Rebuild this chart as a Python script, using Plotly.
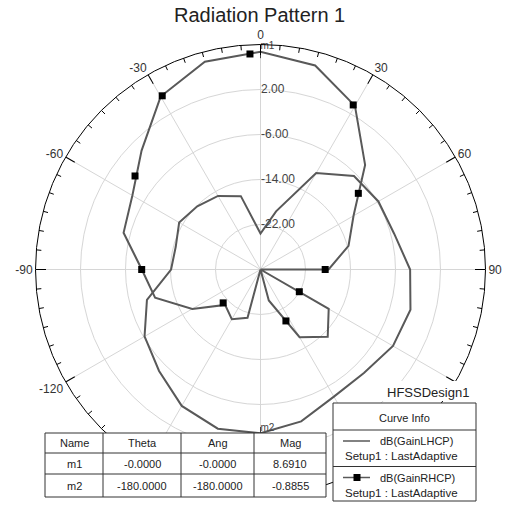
import plotly.graph_objects as go

# ---- pattern data (dB vs theta, degrees) ----
THETA = list(range(-180, 181, 15))
LHCP_DB = [-0.8855, -0.7, -2.0, -4.5, -6.2, -9.1, -14.1, -14.4, -13.3, -14.1,
           -14.9, -16.5, -23.6, -19.3, -10.2, -6.5, -5.8, -5.4, -3.4, -2.4,
           -2.8, -4.0, -3.9, -2.05, -0.8855]
RHCP_DB = [-30.0, -21.1, -19.8, -21.1, -16.0, -10.6, -8.9, -4.8, -3.7, -0.1,
           5.5, 8.23, 8.691, 7.55, 3.58, -3.7, -10.9, -13.8, -17.9, -30.0,
           -16.0, -13.1, -16.1, -24.3, -30.0]

# symbol positions along the RHCP curve
RHCP_SYM_THETA = [-2.8, 29.4, 52.1, 90.0, 119.8, 153.7, -131.8, -90.0, -53.3, -29.5]
RHCP_SYM_DB = [8.36, 3.58, -7.96, -18.5, -22.05, -19.8, -21.1, -8.88, -2.18, 5.48]

# named markers
MARKER_NAMES = ["m1", "m2"]
MARKER_THETA = [-0.0, -180.0]
MARKER_ANG = [-0.0, -180.0]
MARKER_MAG = [8.6910, -0.8855]

TABLE_HEAD = ["Name", "Theta", "Ang", "Mag"]

# axes (labels under the table / info box are left blank)
R_RANGE = [-30, 10]
R_TICKS = [-22, -14, -6, 2]
ANG_TICKS = [0, 30, 60, 90, 120, 150, 180, 210, 240, 270, 300, 330]
ANG_TEXT = ["0", "30", "60", "90", "", "", "", "", "-120", "-90", "-60", "-30"]

W, H = 505, 508
FONT = "Liberation Sans, Arial, sans-serif"
CURVE = "#595959"
GRID = "#d6d6d6"


def px(x):
    return x / W


def py(y):
    return 1 - y / H


fig = go.Figure()

# minor ticks every 5 degrees on the outer ring
minor_t, minor_r = [], []
tick_depth = 5 / (450 / 2) * (R_RANGE[1] - R_RANGE[0])
for a in range(0, 360, 5):
    if a % 30:
        minor_t += [a, a, None]
        minor_r += [R_RANGE[1], R_RANGE[1] - tick_depth, None]
fig.add_trace(go.Scatterpolar(theta=minor_t, r=minor_r, mode="lines",
                              line=dict(color="black", width=1),
                              hoverinfo="skip", cliponaxis=False))

fig.add_trace(go.Scatterpolar(theta=THETA, r=LHCP_DB, mode="lines",
                              name="dB(GainLHCP)",
                              line=dict(color=CURVE, width=2)))
fig.add_trace(go.Scatterpolar(theta=THETA, r=RHCP_DB, mode="lines",
                              name="dB(GainRHCP)",
                              line=dict(color=CURVE, width=2)))
fig.add_trace(go.Scatterpolar(theta=RHCP_SYM_THETA, r=RHCP_SYM_DB, mode="markers",
                              marker=dict(symbol="square", size=7, color="black"),
                              showlegend=False))

# m1 / m2 markers: a short tick at the point and the name beside it
fig.add_trace(go.Scatterpolar(theta=MARKER_THETA, r=MARKER_MAG, mode="markers",
                              marker=dict(symbol="line-ns", size=9,
                                          line=dict(width=1, color="#444")),
                              cliponaxis=False))
fig.add_trace(go.Scatterpolar(theta=MARKER_THETA, r=MARKER_MAG, mode="text",
                              text=MARKER_NAMES, textposition="top right",
                              textfont=dict(family=FONT, size=10, color="#444"),
                              cliponaxis=False))

fig.update_layout(
    width=W, height=H,
    margin=dict(l=0, r=0, t=0, b=0),
    paper_bgcolor="white",
    showlegend=False,
    polar=dict(
        domain=dict(x=[px(35.5), px(485.5)], y=[py(494.5), py(44.5)]),
        bgcolor="white",
        angularaxis=dict(
            rotation=90, direction="clockwise",
            tickmode="array", tickvals=ANG_TICKS, ticktext=ANG_TEXT,
            ticks="inside", ticklen=10, tickwidth=1, tickcolor="black",
            showline=True, linecolor="black", linewidth=1,
            showgrid=True, gridcolor=GRID, gridwidth=1,
            tickfont=dict(family=FONT, size=12, color="#333"),
        ),
        radialaxis=dict(
            range=R_RANGE, tickmode="array", tickvals=R_TICKS,
            ticktext=[f"{v:.2f}" for v in R_TICKS],
            angle=90, tickangle=90, side="clockwise",
            showline=False, ticks="",
            showgrid=True, gridcolor=GRID, gridwidth=1,
            tickfont=dict(family=FONT, size=12, color="#444"),
        ),
    ),
)

shapes = []
annotations = []

annotations.append(dict(x=px(259), y=py(15), xref="paper", yref="paper",
                        text="Radiation Pattern 1", showarrow=False,
                        font=dict(family=FONT, size=20, color="#222"),
                        xanchor="center", yanchor="middle"))

# design name sits on a white panel
shapes.append(dict(type="rect", xref="paper", yref="paper", layer="above",
                   x0=px(378), x1=px(500), y0=py(401), y1=py(381),
                   fillcolor="white", line=dict(width=0)))
annotations.append(dict(x=px(428), y=py(392.5), xref="paper", yref="paper",
                        text="HFSSDesign1", showarrow=False,
                        font=dict(family=FONT, size=13, color="#222"),
                        xanchor="center", yanchor="middle"))

# ---- marker table ----
tx0, tx1 = 45, 326
row_y = [433, 453, 474, 497]
col_x = [45, 103, 181, 254, 326]
shapes.append(dict(type="rect", xref="paper", yref="paper", layer="above",
                   x0=px(tx0), x1=px(tx1), y0=py(row_y[-1]), y1=py(row_y[0]),
                   fillcolor="white", line=dict(color="#333", width=1)))
for yy in row_y[1:-1]:
    shapes.append(dict(type="line", xref="paper", yref="paper", layer="above",
                       x0=px(tx0), x1=px(tx1), y0=py(yy), y1=py(yy),
                       line=dict(color="#333", width=1)))
for xx in col_x[1:-1]:
    shapes.append(dict(type="line", xref="paper", yref="paper", layer="above",
                       x0=px(xx), x1=px(xx), y0=py(row_y[0]), y1=py(row_y[-1]),
                       line=dict(color="#333", width=1)))
rows = [TABLE_HEAD] + [[n, f"{t:.4f}", f"{a:.4f}", f"{m:.4f}"]
                       for n, t, a, m in zip(MARKER_NAMES, MARKER_THETA, MARKER_ANG, MARKER_MAG)]
for i, row in enumerate(rows):
    yc = (row_y[i] + row_y[i + 1]) / 2
    for j, cell in enumerate(row):
        xc = (col_x[j] + col_x[j + 1]) / 2
        annotations.append(dict(x=px(xc), y=py(yc), xref="paper", yref="paper",
                                text=cell, showarrow=False,
                                font=dict(family=FONT, size=11, color="#222"),
                                xanchor="center", yanchor="middle"))

# ---- curve info box ----
lx0, lx1, ly0, ly1 = 333, 476, 403, 501
shapes.append(dict(type="rect", xref="paper", yref="paper", layer="above",
                   x0=px(lx0), x1=px(lx1), y0=py(ly1), y1=py(ly0),
                   fillcolor="white", line=dict(color="#333", width=1)))
for yy in (430, 466.5):
    shapes.append(dict(type="line", xref="paper", yref="paper", layer="above",
                       x0=px(lx0), x1=px(lx1), y0=py(yy), y1=py(yy),
                       line=dict(color="#333", width=1)))
annotations.append(dict(x=px((lx0 + lx1) / 2), y=py(417.5), xref="paper", yref="paper",
                        text="Curve Info", showarrow=False,
                        font=dict(family=FONT, size=11, color="#222"),
                        xanchor="center", yanchor="middle"))
entries = [("dB(GainLHCP)", 441, False), ("dB(GainRHCP)", 477.5, True)]
for label, yy, with_sym in entries:
    shapes.append(dict(type="line", xref="paper", yref="paper", layer="above",
                       x0=px(343), x1=px(370), y0=py(yy), y1=py(yy),
                       line=dict(color=CURVE, width=1.5)))
    if with_sym:
        shapes.append(dict(type="rect", xref="paper", yref="paper", layer="above",
                           x0=px(353.5), x1=px(360.5), y0=py(yy + 3.5), y1=py(yy - 3.5),
                           fillcolor="black", line=dict(width=0)))
    annotations.append(dict(x=px(378), y=py(yy), xref="paper", yref="paper",
                            text=label, showarrow=False,
                            font=dict(family=FONT, size=11, color="#222"),
                            xanchor="left", yanchor="middle"))
    annotations.append(dict(x=px(343), y=py(yy + 15), xref="paper", yref="paper",
                            text="Setup1 : LastAdaptive", showarrow=False,
                            font=dict(family=FONT, size=11.5, color="#222"),
                            xanchor="left", yanchor="middle"))

fig.update_layout(shapes=shapes, annotations=annotations)
fig.write_html("out.html")
